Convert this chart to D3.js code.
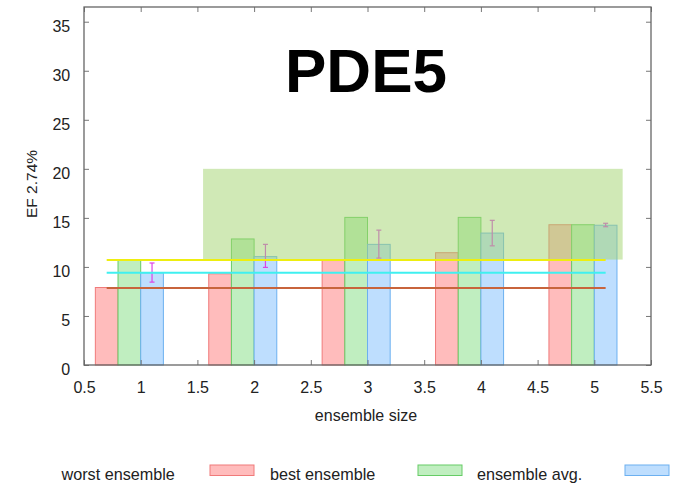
<!DOCTYPE html>
<html>
<head>
<meta charset="utf-8">
<script src="https://cdn.jsdelivr.net/npm/d3@7"></script>
<style>
  html, body { margin: 0; padding: 0; background: #fff; }
  svg { display: block; font-family: "Liberation Sans", Arial, Helvetica, sans-serif; }
</style>
</head>
<body>
<svg id="chart" width="673" height="484"></svg>
<script>
// Ensemble sizes on the x axis
const ensembleSizes = [1, 2, 3, 4, 5];
// EF 2.74% per ensemble size
const worstEnsemble = [7.9, 9.3, 10.65, 11.45, 14.3];
const bestEnsemble  = [10.7, 12.85, 15.05, 15.05, 14.3];
const ensembleAvg   = [9.4, 11.05, 12.3, 13.45, 14.25];
// spread around the ensemble average
const avgErrLow  = [8.45, 9.95, 10.9, 12.15, 14.1];
const avgErrHigh = [10.4, 12.3, 13.75, 14.75, 14.45];
// single-member reference levels: best, average, worst
const referenceLevels = [10.7, 9.4, 7.85];
const referenceColors = ["#eeee10", "#3ff0f0", "#c8643c"];
// highlighted region (x range, y range)
const highlightX = [1.55, 5.25];
const highlightY = [10.75, 20];
// axis ticks
const xTicks = [0.5, 1, 1.5, 2, 2.5, 3, 3.5, 4, 4.5, 5, 5.5];
const yTicks = [0, 5, 10, 15, 20, 25, 30, 35];
const legendLabels = ["worst ensemble", "best ensemble", "ensemble avg."];

const series = [
  { name: legendLabels[0], values: worstEnsemble, offset: -0.4, fill: "#ffbcbc", stroke: "#f07a7a" },
  { name: legendLabels[1], values: bestEnsemble,  offset: -0.2, fill: "#c0eec0", stroke: "#66cc66" },
  { name: legendLabels[2], values: ensembleAvg,   offset: 0.0,  fill: "#bedefe", stroke: "#6cb0f0" }
];
const barWidth = 0.2;

const svg = d3.select("#chart");
const plotLeft = 84, plotRight = 651, plotTop = 7, plotBottom = 365;

const x = d3.scaleLinear().domain([0.5, 5.5]).range([plotLeft, plotRight]);
const y = d3.scaleLinear().domain([0, 36.5]).range([plotBottom, plotTop]);

// bars
series.forEach(s => {
  svg.append("g").selectAll("rect")
    .data(s.values.map((v, i) => ({ x: ensembleSizes[i], v })))
    .join("rect")
    .attr("x", d => x(d.x + s.offset))
    .attr("width", d => x(d.x + s.offset + barWidth) - x(d.x + s.offset))
    .attr("y", d => y(d.v))
    .attr("height", d => y(0) - y(d.v))
    .attr("fill", s.fill)
    .attr("stroke", s.stroke)
    .attr("stroke-width", 1);
});

// error bars on the average
const err = svg.append("g").attr("stroke", "#dd44e6").attr("stroke-width", 1.2).attr("fill", "none");
ensembleSizes.forEach((xs, i) => {
  const cx = x(xs + 0.1);
  err.append("line").attr("x1", cx).attr("x2", cx).attr("y1", y(avgErrLow[i])).attr("y2", y(avgErrHigh[i]));
  err.append("line").attr("x1", cx - 2.5).attr("x2", cx + 2.5).attr("y1", y(avgErrLow[i])).attr("y2", y(avgErrLow[i]));
  err.append("line").attr("x1", cx - 2.5).attr("x2", cx + 2.5).attr("y1", y(avgErrHigh[i])).attr("y2", y(avgErrHigh[i]));
});

// highlighted region
svg.append("rect")
  .attr("x", x(highlightX[0]))
  .attr("width", x(highlightX[1]) - x(highlightX[0]))
  .attr("y", y(highlightY[1]))
  .attr("height", y(highlightY[0]) - y(highlightY[1]))
  .attr("fill", "#a2d36e")
  .attr("fill-opacity", 0.5);

// reference levels
svg.append("g").selectAll("line")
  .data(referenceLevels)
  .join("line")
  .attr("x1", x(0.7)).attr("x2", x(5.1))
  .attr("y1", d => y(d)).attr("y2", d => y(d))
  .attr("stroke", (d, i) => referenceColors[i])
  .attr("stroke-width", 2);

// axes with inward ticks on all four sides
function styleAxis(g) {
  g.select(".domain").remove();
  g.selectAll(".tick line").attr("stroke", "#777").attr("stroke-width", 1);
  g.selectAll(".tick text").attr("fill", "#222").attr("font-size", 16)
    .attr("font-family", "'Liberation Sans', Arial, sans-serif");
}
const fmt = d => String(d);

svg.append("g").attr("transform", `translate(0,${plotBottom})`)
  .call(d3.axisBottom(x).tickValues(xTicks).tickFormat(fmt).tickSizeInner(-5).tickSizeOuter(0).tickPadding(17))
  .call(styleAxis);
svg.append("g").attr("transform", `translate(0,${plotTop})`)
  .call(d3.axisTop(x).tickValues(xTicks).tickFormat("").tickSizeInner(-5).tickSizeOuter(0))
  .call(styleAxis);
svg.append("g").attr("transform", `translate(${plotLeft},0)`)
  .call(d3.axisLeft(y).tickValues(yTicks).tickFormat(fmt).tickSizeInner(-5).tickSizeOuter(0).tickPadding(17))
  .call(styleAxis)
  .call(g => g.selectAll(".tick text").attr("dy", "0.62em").attr("dx", "0.2em"));
svg.append("g").attr("transform", `translate(${plotRight},0)`)
  .call(d3.axisRight(y).tickValues(yTicks).tickFormat("").tickSizeInner(-5).tickSizeOuter(0))
  .call(styleAxis);

// frame
svg.append("rect")
  .attr("x", plotLeft).attr("y", plotTop)
  .attr("width", plotRight - plotLeft).attr("height", plotBottom - plotTop)
  .attr("fill", "none").attr("stroke", "#666").attr("stroke-width", 1.3);

// title
svg.append("text")
  .attr("x", 366).attr("y", 91.5)
  .attr("text-anchor", "middle")
  .attr("font-size", 62).attr("font-weight", "bold").attr("fill", "#000")
  .text("PDE5");

// axis titles
svg.append("text")
  .attr("x", 366).attr("y", 421)
  .attr("text-anchor", "middle").attr("font-size", 16).attr("fill", "#222")
  .text("ensemble size");
svg.append("text")
  .attr("transform", "translate(37,184) rotate(-90)")
  .attr("text-anchor", "middle").attr("font-size", 15.5).attr("fill", "#222")
  .text("EF 2.74%");

// legend: label followed by swatch
const legendTextX = [61.5, 270, 477];
const legendSwatchX = [210, 418, 625];
const legend = svg.append("g");
series.forEach((s, i) => {
  legend.append("text")
    .attr("x", legendTextX[i]).attr("y", 479.5)
    .attr("font-size", 16.2).attr("fill", "#222")
    .text(s.name);
  legend.append("rect")
    .attr("x", legendSwatchX[i]).attr("y", 465)
    .attr("width", 44).attr("height", 10.5)
    .attr("fill", s.fill).attr("stroke", s.stroke).attr("stroke-width", 1);
});
</script>
</body>
</html>
